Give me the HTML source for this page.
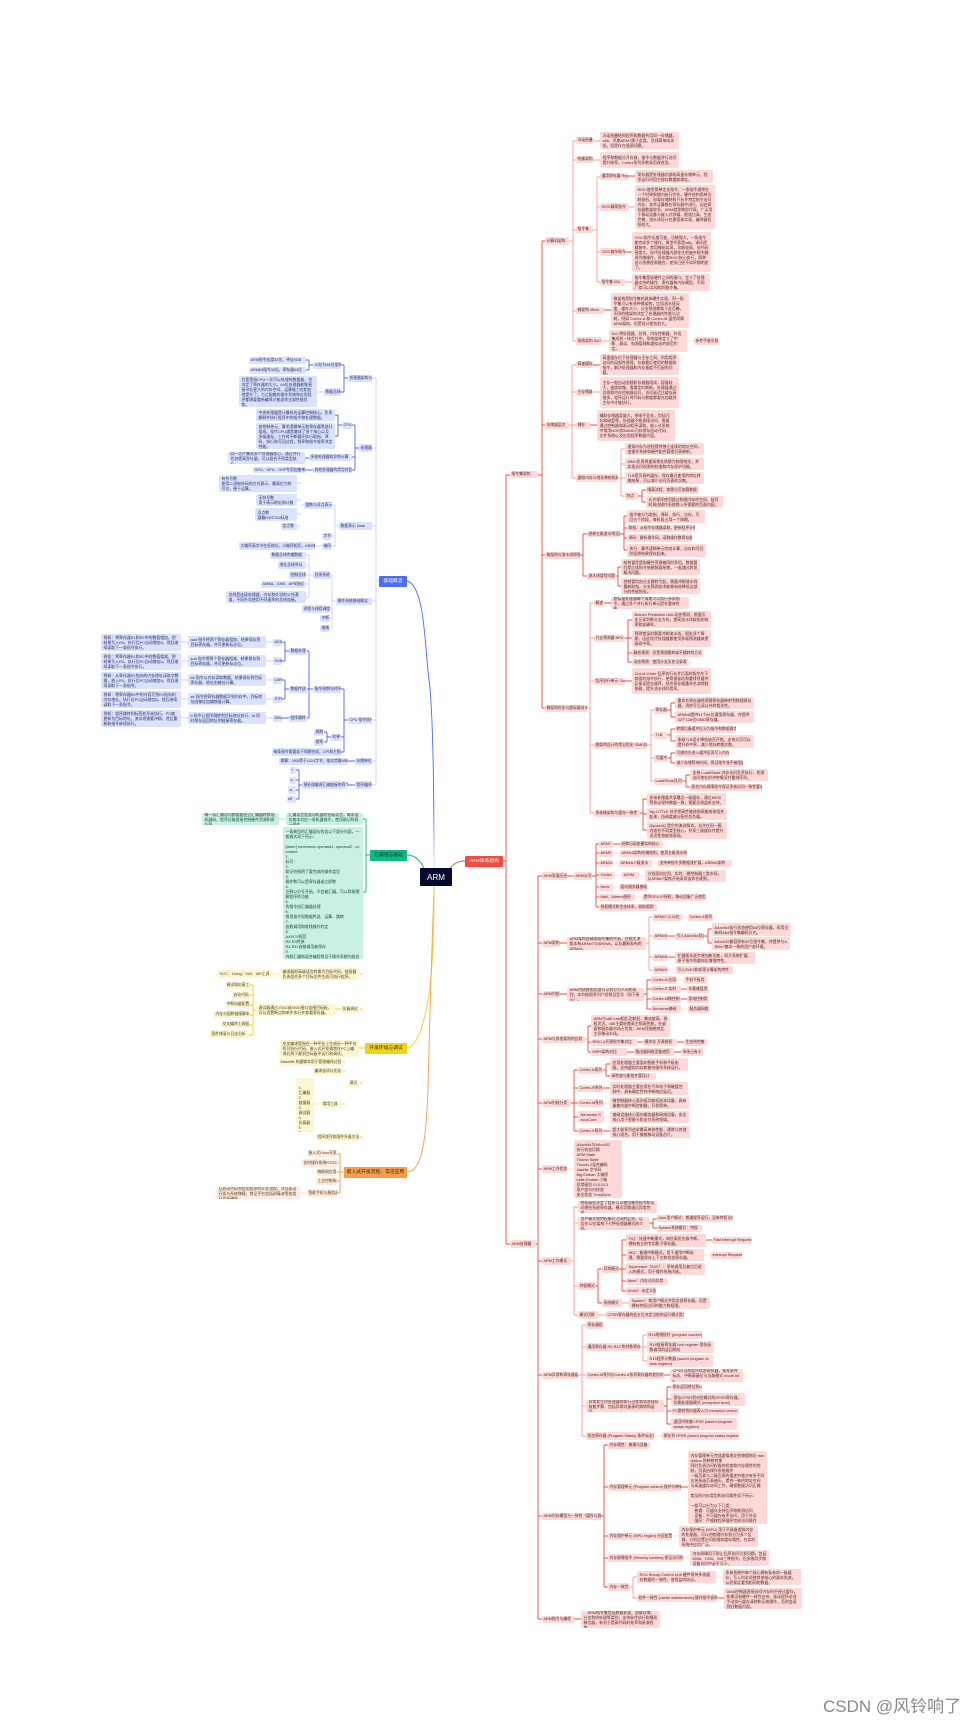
<!DOCTYPE html>
<html lang="zh"><head><meta charset="utf-8"><title>ARM</title>
<style>
html,body{margin:0;padding:0;background:#fff}
body{width:974px;height:1728px;position:relative;overflow:hidden;font-family:"Liberation Sans","Noto Sans CJK SC",sans-serif}
#m{position:absolute;left:0;top:0;width:974px;height:1728px;filter:blur(.35px)}
svg{position:absolute;left:0;top:0}
p{position:absolute;margin:0;box-sizing:border-box;padding:0 2.5px;border-radius:2px;font-size:3.9px;line-height:5px;display:flex;align-items:center;overflow:hidden;word-break:break-all}
p[style*="height:6px"],p[style*="height:7px"],p[style*="height:8px"]{white-space:nowrap;padding:0 1.5px;font-size:3.8px}
.r{background:#ffd9d7;color:#4f2222}.b{background:#dbe2fd;color:#252c66}.g{background:#c9f0e2;color:#124a38}.y{background:#fdf6d3;color:#4d4216}.o{background:#fdecdf;color:#54361a}
.t{color:#fff;font-size:4.8px;justify-content:center;border-radius:1px}
.w{position:absolute;left:823px;top:1696px;font-size:17px;line-height:22px;color:#8a8a8a;white-space:nowrap}
</style></head><body><div id="m">
<svg width="974" height="1728" fill="none" stroke-width=".9">
<defs>
<linearGradient id="gb" gradientUnits="userSpaceOnUse" x1="0" y1="581" x2="0" y2="868"><stop offset="0" stop-color="#4a6cf7"/><stop offset=".8" stop-color="#4a6cf7"/><stop offset="1" stop-color="#dfe5fd"/></linearGradient>
<linearGradient id="gy" gradientUnits="userSpaceOnUse" x1="0" y1="886" x2="0" y2="1048"><stop offset="0" stop-color="#f2d31b"/><stop offset="1" stop-color="#f2d31b"/></linearGradient>
<linearGradient id="go" gradientUnits="userSpaceOnUse" x1="0" y1="886" x2="0" y2="1172"><stop offset="0" stop-color="#f8c93a"/><stop offset=".2" stop-color="#fa9d4a"/><stop offset="1" stop-color="#fa9d4a"/></linearGradient>
</defs>
<path stroke="url(#gb)" d="M407 581C425 585 425 650 429 680S434 780 434 868"/>
<path stroke="#0dbb7f" d="M407 855C415 855 420 860 424 868"/>
<path stroke="#f5483f" d="M450 868C455 863 458 861 465 861"/>
<path stroke="url(#gy)" d="M434 886C434 950 432 1000 420 1032C416 1042 412 1048 407 1048"/>
<path stroke="url(#go)" d="M434 886C432 950 430 1000 428 1090C426 1140 422 1172 407 1172"/>
<path stroke="#f5483f" d="M503 861H506M506 475V1244M506 475H510M506 1244H510M538 475H542M542 241V708M542 241H545M542 425H545M542 555H545M542 708H545M536 1244H538M538 876V1619M538 876H542M538 943H542M538 994H542M538 1039H542M538 1103H542M538 1169H542M538 1261H542M538 1375H542M538 1516H542M538 1619H542
M628 176H635M625 252H632M604 310H611M593 365H600M590 425H597M642 490V502M642 490H646M642 502H646M638 496H642
M580 555H583M583 534V576M583 534H587M583 576H587M621 534H624M624 516V550M624 516H627M624 528H627M624 538H627M624 550H627M616 576H618M618 567V586M618 567H621M618 586H621
M604 603H611M625 638H628M628 620V662M628 620H632M628 638H632M628 653H632M628 662H632M625 681H632M667 710H671M671 703V717M671 703H675M671 717H675M667 735H671M671 729V741M671 729H675M671 741H675M668 758H671M671 753V763M671 753H675M671 763H675M683 781H686M686 775V787M686 775H690M686 787H690M640 813H643M643 799V830M643 799H647M643 814H647M643 830H647
M567 876H574M592 876H596M596 844V907M596 844H599M596 853H599M596 863H599M596 875H599M596 887H599M596 897H599M596 907H599M613 844H620
M560 943H567M668 936H675M704 936H708M708 929V943M708 929H712M708 943H712M668 957H675
M560 994H567M644 994H647M647 980V1009M647 980H651M647 989H651M647 999H651M647 1009H651M681 989H687M681 999H687
M588 1026V1052M588 1026H591M588 1042H591M588 1052H591M637 1042H643M677 1042H684M627 1052H634M674 1052H681
M571 1103H574M574 1070V1131M574 1070H578M574 1088H578M574 1103H578M574 1117H578M574 1131H578M603 1070H606M606 1064V1076M606 1064H610M606 1076H610M603 1088H610M603 1131H610
M567 1169H574M653 1219V1228M649 1223H653M653 1219H657M653 1228H657M595 1286H598M598 1269V1303M598 1269H602M598 1303H602M619 1269H622M622 1240V1291M622 1240H626M622 1255H626M622 1269H626M622 1281H626M622 1291H626M706 1240H712
M664 1375H670M664 1406H667M667 1387V1424M667 1387H671M667 1399H671M667 1411H671M667 1424H671
M601 1516H604M604 1445V1587M604 1445H608M604 1487H608M604 1536H608M604 1558H608M604 1587H608M681 1487H688M717 1598H724M574 1619H581"/>
<path stroke="#fb9d98" d="M569 241H573M573 141V341M573 141H576M573 160H576M573 230H576M573 311H576M573 341H576M593 230H597M597 177V282M597 177H600M597 207H600M597 252H600M597 282H600M593 141H600M593 160H600M629 207H635M625 282H632M602 341H609M569 425H572M572 365V478M572 365H576M572 392H576M572 425H576M572 478H576M592 392H600M618 478H621M621 449V496M621 449H625M621 464H625M621 478H625M621 496H625
M587 708H590M590 603V813M590 603H594M590 638H594M590 681H594M590 745H594M590 813H594M647 745H651M651 710V781M651 710H654M651 735H654M651 758H654M651 781H654
M646 943H649M649 917V970M649 917H653M649 936H653M649 957H653M649 970H653
M585 1039H588M571 1261H574M574 1207V1315M574 1207H578M574 1223H578M574 1286H578M574 1315H578M598 1315H606M622 1303H629
M578 1375H582M582 1325V1436M582 1325H586M582 1347H586M582 1375H586M582 1406H586M582 1436H586M640 1347H643M643 1335V1361M643 1335H647M643 1347H647M643 1361H647
M630 1587H633M633 1577V1598M633 1577H637M633 1598H637"/>
<path stroke="#fde0de" d="M687 341H694M613 853H620M613 863H619M652 863H658M615 875H622M639 876H645M613 887H619M635 897H642M682 917H688M668 970H676M677 980H684M681 1009H688M603 1103H610M604 1117H610M704 1255H711M654 1436H662M672 1536H679M683 1558H690M716 1577H723M564 1169H574"/>
<path stroke="#c8d4fc" d="M376 378V785M379 581H376M376 378H372M376 448H372M376 526H372M376 601H372M376 720H372M376 761H372M376 785H372M324 392H317M339 526H335M335 505V546M335 505H332M335 536H332M335 546H332M322 546H315M336 601H332M332 575V628M332 575H331M332 609H330M332 618H330M332 628H330M313 575H309M309 555V597M309 555H306M309 565H306M309 575H306M309 584H306M309 597H306M304 505H301M301 483H297M301 500H297M301 514H297M301 526H297M273 642H266M188 642H181M273 661H266M188 661H181M273 680H266M188 680H181M273 699H266M188 699H181M273 718H266M188 718H181"/>
<path stroke="#4a6cf7" d="M348 378H344M344 365V392M344 365H341M344 392H341M313 365H309M309 360V370M309 360H306M309 370H306M359 448H355M355 425V470M355 425H352M355 457H352M355 470H352M342 425H338M338 415V436M338 415H335M338 436H335M309 458H305M313 470H306M348 720H344M344 689V752M344 689H341M344 737H341M344 752H341M313 689H309M309 651V718M309 651H307M309 689H307M309 718H307M289 651H285M285 642V661M285 642H282M285 661H282M289 689H285M285 680V699M285 680H282M285 699H282M289 718H282M331 737H327M327 732V742M327 732H324M327 742H324M355 761H348M355 785H348M302 785H299M299 770V799M299 770H296M299 780H296M299 790H296M299 799H296"/>
<path stroke="#0dbb7f" d="M370 855H366M366 819V892M366 819H363M366 892H363"/>
<path stroke="#a8e6cf" d="M286 819H279"/>
<path stroke="#f2d31b" d="M365 1048H359M341 1009H335M256 1010H253M253 985V1035M253 985H249M253 995H249M253 1005H249M253 1015H249M253 1025H249M253 1035H249M360 974H362M360 1009H362M343 1062H345M343 1071H345M360 1083H362M343 1104H345M360 1137H362"/>
<path stroke="#f9eea8" d="M280 974H273M321 1104H314"/>
<path stroke="#fa9d4a" d="M344 1172H340M340 1154V1193M340 1154H337M340 1163H338M340 1172H337M340 1181H337M340 1193H337"/>
<path stroke="#fbd9bd" d="M307 1193H300"/>
</svg>

<p class="t" style="left:420px;top:868px;width:32px;height:18px;background:#050a2e;font-size:8px">ARM</p>
<p class="t" style="left:465px;top:856px;width:38px;height:11px;background:#f44a3f">ARM体系结构</p>
<p class="t" style="left:370px;top:850px;width:37px;height:11px;background:#0dbb7f;color:#033">汇编语言基础</p>
<p class="t" style="left:379px;top:576px;width:28px;height:11px;background:#4a6cf7">基础概念</p>
<p class="t" style="left:365px;top:1043px;width:42px;height:11px;background:#f2d31b;color:#332">开发环境与调试</p>
<p class="t" style="left:344px;top:1167px;width:63px;height:11px;background:#fa9d4a;color:#321">嵌入式开发流程、常见应用</p>

<!-- red top -->
<p class="r" style="left:510px;top:471px;width:28px;height:7px">指令集架构</p>
<p class="r" style="left:510px;top:1240px;width:26px;height:8px">ARM处理器</p>
<p class="r" style="left:545px;top:237px;width:24px;height:8px">计算机架构</p>
<p class="r" style="left:545px;top:422px;width:24px;height:7px">存储器层次</p>
<p class="r" style="left:545px;top:552px;width:35px;height:7px">微架构与流水线原理</p>
<p class="r" style="left:545px;top:705px;width:42px;height:7px">微架构优化与超标量技术</p>
<p class="r" style="left:576px;top:137px;width:17px;height:7px">冯诺依曼</p>
<p class="r" style="left:600px;top:132px;width:79px;height:17px">冯诺依曼结构程序和数据共用同一存储器，x86、早期ARM7属于此类，总线简单成本低，但是存在瓶颈问题。</p>
<p class="r" style="left:576px;top:156px;width:17px;height:7px">哈佛架构</p>
<p class="r" style="left:600px;top:152px;width:79px;height:16px">程序和数据分开存放，指令与数据并行访问提升效率，Cortex系列多数采用改进型。</p>
<p class="r" style="left:576px;top:226px;width:17px;height:7px">指令集</p>
<p class="r" style="left:600px;top:173px;width:28px;height:7px">通用寄存器 Reg</p>
<p class="r" style="left:635px;top:170px;width:78px;height:13px">寄存器是处理器内部的高速存储单元，程序运行时用它保存数据和地址。</p>
<p class="r" style="left:600px;top:203px;width:29px;height:8px">RISC精简指令</p>
<p class="r" style="left:635px;top:185px;width:80px;height:44px">RISC使用简单定长指令，一条指令通常在一个时钟周期内执行完毕，硬件结构简单功耗很低。加载存储结构只允许特定指令访问内存，其余运算都在寄存器中进行，因此寄存器数量较多。ARM就是典型代表，广泛用于移动设备与嵌入式领域，能效比高，生态完善。流水线设计也更容易实现，编译器负担较大。</p>
<p class="r" style="left:600px;top:248px;width:25px;height:8px">CISC复杂指令</p>
<p class="r" style="left:632px;top:232px;width:79px;height:40px">CISC指令长度可变，功能强大，一条指令能完成多个操作，典型代表是x86。译码逻辑复杂，常用微码实现，功耗较高，但代码密度大。现代处理器内部往往把复杂指令翻译为微操作，再由类RISC核心执行，两种设计思想逐渐融合，差别已经不如早期明显了。</p>
<p class="r" style="left:600px;top:279px;width:25px;height:7px">指令集 ISA</p>
<p class="r" style="left:632px;top:274px;width:78px;height:17px">指令集是软硬件之间的接口，定义了处理器支持的操作、寄存器和内存模型，不同厂商可以实现相同指令集。</p>
<p class="r" style="left:576px;top:307px;width:28px;height:7px">微架构 Micro</p>
<p class="r" style="left:611px;top:293px;width:78px;height:35px">微架构是指令集的具体硬件实现，同一指令集可以有多种微架构，比如流水线深度、缓存大小、分支预测都属于此范畴。不同的微架构决定了处理器的性能与功耗，例如 Cortex-A 和 Cortex-M 虽然同属ARM架构，但是设计差别很大。</p>
<p class="r" style="left:576px;top:337px;width:26px;height:8px">系统架构 SoC</p>
<p class="r" style="left:609px;top:330px;width:78px;height:22px">SoC将处理器、总线、内存控制器、外设集成到一块芯片中。系统架构定义了中断、调试、电源管理和虚拟化的规范约定。</p>
<p class="r" style="left:694px;top:337px;width:25px;height:8px">参考手册文档</p>
<p class="r" style="left:576px;top:361px;width:17px;height:7px">高速缓存</p>
<p class="r" style="left:600px;top:354px;width:79px;height:21px">高速缓存位于处理器与主存之间，利用程序访问的局部性原理，存放最近使用的数据和指令，解决处理器和内存速度不匹配的问题。</p>
<p class="r" style="left:576px;top:389px;width:16px;height:7px">主存储器</p>
<p class="r" style="left:600px;top:377px;width:79px;height:31px">主存一般由动态随机存储器组成，容量较大，速度较慢，需要定时刷新。处理器通过总线和内存控制器访问，访问延迟比缓存高很多，程序运行时代码与数据都要先加载到主存中才能执行。</p>
<p class="r" style="left:576px;top:422px;width:14px;height:7px">辅存</p>
<p class="r" style="left:597px;top:410px;width:78px;height:31px">辅助存储器容量大，掉电不丢失，包括闪存和磁盘等。处理器不能直接访问，需要通过控制器和驱动程序读取。嵌入式系统中常用NOR和NAND闪存保存启动代码、文件系统以及应用程序数据内容。</p>
<p class="r" style="left:576px;top:474px;width:42px;height:8px">虚拟内存与地址映射机制</p>
<p class="r" style="left:625px;top:443px;width:79px;height:12px">虚拟内存为进程提供独立连续的地址空间，由操作系统和硬件配合管理页表映射。</p>
<p class="r" style="left:625px;top:458px;width:79px;height:12px">MMU负责将虚拟地址转换为物理地址，并实现访问权限的检查和内存保护功能。</p>
<p class="r" style="left:625px;top:472px;width:79px;height:12px">TLB是页表的缓存，保存最近使用的地址转换结果，可以减少访问页表的次数。</p>
<p class="r" style="left:625px;top:492px;width:13px;height:8px">特点</p>
<p class="r" style="left:646px;top:486px;width:53px;height:8px">隔离进程、按需分页加载数据</p>
<p class="r" style="left:646px;top:496px;width:77px;height:12px">允许程序使用超过物理内存的空间，缺页时再由操作系统换入所需要的页面内容。</p>
<p class="r" style="left:587px;top:531px;width:34px;height:6px">经典五级流水线设计</p>
<p class="r" style="left:627px;top:510px;width:78px;height:13px">指令被分为取指、译码、执行、访存、写回五个阶段，每阶段占用一个周期。</p>
<p class="r" style="left:627px;top:525px;width:68px;height:7px">取指：从指令存储器读取，更新程序计数器</p>
<p class="r" style="left:627px;top:534px;width:65px;height:8px">译码：解析操作码，读取操作数寄存器</p>
<p class="r" style="left:627px;top:544px;width:79px;height:13px">执行：算术逻辑单元完成计算，访存和写回阶段把结果保存起来。</p>
<p class="r" style="left:587px;top:573px;width:29px;height:7px">流水线冒险问题</p>
<p class="r" style="left:621px;top:559px;width:79px;height:16px">结构冒险是指硬件资源被同时争用，数据冒险是后续指令依赖前面结果，一般通过转发解决问题。</p>
<p class="r" style="left:621px;top:578px;width:79px;height:16px">控制冒险由分支跳转引起，需要冲刷流水线重新取指，分支预测技术能够有效降低这部分的性能损失。</p>
<p class="r" style="left:594px;top:600px;width:10px;height:7px">概述</p>
<p class="r" style="left:611px;top:597px;width:78px;height:12px">超标量处理器每个周期可以执行多条指令，通过多个并行执行单元提升整体性能。</p>
<p class="r" style="left:594px;top:635px;width:31px;height:7px">分支预测器 BPU</p>
<p class="r" style="left:632px;top:611px;width:79px;height:17px">Branch Prediction Unit 动态预测，根据历史记录判断分支方向，提高流水线取指的效率和准确率。</p>
<p class="r" style="left:632px;top:630px;width:79px;height:17px">预测错误时需要冲刷流水线，损失多个周期，因此现代处理器都使用多级预测器来提高命中率。</p>
<p class="r" style="left:632px;top:649px;width:71px;height:8px">静态预测：总是预测跳转或不跳转的方式</p>
<p class="r" style="left:632px;top:659px;width:57px;height:7px">动态预测：使用分支历史记录表</p>
<p class="r" style="left:594px;top:678px;width:31px;height:7px">乱序执行单元 OoO</p>
<p class="r" style="left:632px;top:668px;width:79px;height:26px">Out-of-Order 乱序执行允许后面的指令先于前面的指令执行，使用保留站和重排序缓冲区保证提交顺序，结合寄存器重命名消除假依赖，提升流水线利用率。</p>
<p class="r" style="left:594px;top:742px;width:53px;height:7px">微架构设计的常见优化 SIMD技术</p>
<p class="r" style="left:654px;top:707px;width:13px;height:7px">寄存器</p>
<p class="r" style="left:675px;top:697px;width:79px;height:12px">重命名寄存器将逻辑寄存器映射到物理寄存器，消除写后读以外的相关性。</p>
<p class="r" style="left:675px;top:711px;width:79px;height:12px">ARMv8提供31个64位通用寄存器，并提供32个128位SIMD寄存器。</p>
<p class="r" style="left:654px;top:732px;width:13px;height:7px">TLB</p>
<p class="r" style="left:675px;top:726px;width:61px;height:7px">转换后备缓冲区分为指令和数据两类</p>
<p class="r" style="left:675px;top:735px;width:79px;height:13px">多级TLB设计降低缺页开销，支持大页可以提升命中率，减少地址转换次数。</p>
<p class="r" style="left:654px;top:755px;width:14px;height:7px">写缓冲</p>
<p class="r" style="left:675px;top:750px;width:54px;height:7px">写操作先进入缓冲区再写入内存</p>
<p class="r" style="left:675px;top:760px;width:68px;height:7px">减少存储等待时间，保证指令流不被阻塞</p>
<p class="r" style="left:654px;top:778px;width:29px;height:7px">Load/Store队列</p>
<p class="r" style="left:690px;top:769px;width:78px;height:12px">支持 Load/Store 内存访问乱序执行，检测访问地址的冲突情况并重排序列。</p>
<p class="r" style="left:690px;top:784px;width:72px;height:7px">配合内存屏障指令保证多核访问一致性要求</p>
<p class="r" style="left:594px;top:810px;width:46px;height:7px">多核微架构与缓存一致性</p>
<p class="r" style="left:647px;top:793px;width:79px;height:13px">多核处理器共享最后一级缓存，通过MESI等协议保持数据一致，需要总线监听支持。</p>
<p class="r" style="left:647px;top:808px;width:80px;height:12px">big.LITTLE 技术把高性能核和高能效核组合起来，由调度器分配任务负载。</p>
<p class="r" style="left:647px;top:822px;width:80px;height:17px">DynamIQ 是它的演进版本，允许在同一簇内组合不同类型核心，共享三级缓存并提升灵活性和能效表现。</p>

<!-- ARM processors -->
<p class="r" style="left:542px;top:872px;width:25px;height:8px">ARM发展历史</p>
<p class="r" style="left:574px;top:872px;width:18px;height:8px">ARM公司</p>
<p class="r" style="left:599px;top:841px;width:14px;height:7px">ARM7</p><p class="r" style="left:620px;top:841px;width:43px;height:7px">经典冯诺依曼架构核心</p>
<p class="r" style="left:599px;top:850px;width:14px;height:7px">ARM9</p><p class="r" style="left:620px;top:850px;width:67px;height:7px">ARMv5架构哈佛结构，使用五级流水线</p>
<p class="r" style="left:599px;top:860px;width:14px;height:7px">ARM11</p><p class="r" style="left:619px;top:860px;width:33px;height:7px">ARMv6八级流水</p><p class="r" style="left:658px;top:860px;width:74px;height:7px">支持单指令多数据流扩展，ARMv6架构</p>
<p class="r" style="left:599px;top:872px;width:16px;height:7px">Cortex</p><p class="r" style="left:622px;top:872px;width:17px;height:7px">A/R/M</p><p class="r" style="left:645px;top:870px;width:81px;height:12px">分别面向应用、实时、微控制器三类市场，从ARMv7架构开始采用该命名规则。</p>
<p class="r" style="left:599px;top:884px;width:14px;height:7px">Neov</p><p class="r" style="left:619px;top:884px;width:29px;height:7px">面向服务器基础</p>
<p class="r" style="left:599px;top:894px;width:36px;height:7px">Mali、Adreno图形</p><p class="r" style="left:642px;top:894px;width:64px;height:7px">提供GPU IP授权，移动设备广泛使用</p>
<p class="r" style="left:599px;top:904px;width:58px;height:7px">授权模式和生态体系，收取版税</p>
<p class="r" style="left:542px;top:940px;width:18px;height:7px">ARM架构</p>
<p class="r" style="left:567px;top:937px;width:79px;height:13px">ARM架构是精简指令集的代表，目前主流版本有ARMv7与ARMv8，以及最新发布的ARMv9。</p>
<p class="r" style="left:653px;top:914px;width:29px;height:7px">ARMv7-A 32位</p><p class="r" style="left:688px;top:914px;width:25px;height:7px">Cortex-A系列</p>
<p class="r" style="left:653px;top:933px;width:15px;height:7px">ARMv8</p><p class="r" style="left:675px;top:933px;width:29px;height:7px">引入AArch64状态</p>
<p class="r" style="left:712px;top:923px;width:79px;height:13px">AArch64执行状态使用64位寄存器，采用全新的A64指令集编码方式。</p>
<p class="r" style="left:712px;top:937px;width:78px;height:13px">AArch32兼容原有32位指令集，并提供与ARMv7基本一致的用户态环境。</p>
<p class="r" style="left:653px;top:954px;width:15px;height:7px">ARMv8.x</p><p class="r" style="left:675px;top:952px;width:80px;height:12px">扩展版本逐步增加新功能，如大系统扩展、原子指令和虚拟化增强特性。</p>
<p class="r" style="left:653px;top:966px;width:15px;height:8px">ARMv9</p><p class="r" style="left:676px;top:966px;width:57px;height:8px">引入SVE2和机密计算架构特性</p>
<p class="r" style="left:542px;top:991px;width:18px;height:7px">ARM内核</p>
<p class="r" style="left:567px;top:988px;width:77px;height:13px">ARM内核按照用途可以划分为不同的系列，本节按照系列介绍常见型号（如下所示）。</p>
<p class="r" style="left:651px;top:976px;width:26px;height:8px">Cortex-A 应用</p><p class="r" style="left:684px;top:976px;width:23px;height:8px">手机平板类</p>
<p class="r" style="left:651px;top:986px;width:30px;height:7px">Cortex-R 实时</p><p class="r" style="left:687px;top:986px;width:22px;height:7px">车载硬盘类</p>
<p class="r" style="left:651px;top:996px;width:30px;height:7px">Cortex-M微控制</p><p class="r" style="left:687px;top:996px;width:22px;height:7px">家电控制类</p>
<p class="r" style="left:651px;top:1005px;width:30px;height:8px">Neoverse基础</p><p class="r" style="left:688px;top:1005px;width:22px;height:8px">服务器网络</p>
<p class="r" style="left:542px;top:1036px;width:43px;height:7px">ARM与其他架构的比较</p>
<p class="r" style="left:591px;top:1015px;width:79px;height:22px">ARM与x86 Intel相比功耗低，集成度高，授权灵活。x86主要依靠高主频高性能，在桌面和服务器市场占优势；ARM凭借能效比主导移动市场。</p>
<p class="r" style="left:591px;top:1039px;width:46px;height:7px">RISC-V开源指令集对比</p><p class="r" style="left:643px;top:1039px;width:34px;height:7px">模块化 开源授权</p><p class="r" style="left:684px;top:1039px;width:23px;height:7px">生态待完善</p>
<p class="r" style="left:591px;top:1048px;width:36px;height:8px">MIPS架构对比</p><p class="r" style="left:634px;top:1048px;width:40px;height:8px">路由器网络设备使用</p><p class="r" style="left:681px;top:1048px;width:22px;height:8px">市场占有小</p>
<p class="r" style="left:542px;top:1099px;width:29px;height:8px">ARM内核分类</p>
<p class="r" style="left:578px;top:1067px;width:25px;height:7px">Cortex-A系列</p>
<p class="r" style="left:610px;top:1058px;width:78px;height:13px">应用处理器主要面向智能手机和平板电脑，支持虚拟内存和复杂操作系统运行。</p>
<p class="r" style="left:610px;top:1073px;width:46px;height:7px">高性能与能效并重设计</p>
<p class="r" style="left:578px;top:1085px;width:25px;height:7px">Cortex-R系列</p>
<p class="r" style="left:610px;top:1082px;width:78px;height:13px">实时处理器主要应用在汽车电子和硬盘控制中，具有确定性的中断响应延迟。</p>
<p class="r" style="left:578px;top:1099px;width:25px;height:8px">Cortex-M系列</p>
<p class="r" style="left:610px;top:1097px;width:79px;height:12px">微控制器核心面向低功耗低成本设备，具有嵌套向量中断控制器，开发简单。</p>
<p class="r" style="left:578px;top:1111px;width:26px;height:12px">Neoverse SecurCore</p>
<p class="r" style="left:610px;top:1111px;width:79px;height:12px">基础设施核心面向服务器和网络设备，安全核心用于智能卡和支付系统领域。</p>
<p class="r" style="left:578px;top:1128px;width:25px;height:7px">Cortex-X系列</p>
<p class="r" style="left:610px;top:1126px;width:80px;height:12px">超大核系列追求最高单核性能，通常与其他核心组合，用于旗舰移动设备芯片。</p>
<p class="r" style="left:542px;top:1165px;width:25px;height:8px">ARM工作状态</p>
<p class="r" style="left:574px;top:1140px;width:48px;height:58px;align-items:flex-start;padding-top:2px;white-space:nowrap">AArch64与AArch32<br>执行状态切换<br>ARM State<br>Thumb State<br>Thumb-2混合编码<br>Jazelle 字节码<br>Big-Endian 大端序<br>Little-Endian 小端<br>异常级别 EL0-EL3<br>用户态与内核态<br>安全状态 TrustZone</p>
<p class="r" style="left:542px;top:1257px;width:29px;height:8px">ARM工作模式</p>
<p class="r" style="left:578px;top:1201px;width:79px;height:12px">特权级别决定了程序可以使用哪些指令和访问哪些系统寄存器，模式切换通过异常完成。</p>
<p class="r" style="left:578px;top:1217px;width:71px;height:13px">用户模式和特权模式之间的区别，以及在32位架构下七种处理器模式的介绍。</p>
<p class="r" style="left:657px;top:1215px;width:76px;height:7px">User用户模式：普通程序运行，没有特权访问</p>
<p class="r" style="left:657px;top:1225px;width:45px;height:7px">System系统模式：特权</p>
<p class="r" style="left:578px;top:1282px;width:17px;height:8px">特权模式</p>
<p class="r" style="left:602px;top:1265px;width:17px;height:8px">异常模式</p>
<p class="r" style="left:626px;top:1234px;width:80px;height:13px">FIQ：快速中断模式，响应高优先级中断，拥有独立的专用影子寄存器。</p>
<p class="r" style="left:712px;top:1237px;width:40px;height:7px">Fast Interrupt Request</p>
<p class="r" style="left:626px;top:1249px;width:78px;height:12px">IRQ：普通中断模式，用于通用中断处理，需要保存上下文和状态寄存器。</p>
<p class="r" style="left:711px;top:1252px;width:31px;height:7px">Interrupt Request</p>
<p class="r" style="left:626px;top:1263px;width:79px;height:12px">Supervisor（SVC）：系统调用及复位后进入的模式，用于操作系统内核。</p>
<p class="r" style="left:626px;top:1278px;width:42px;height:7px">Abort：内存访问异常</p>
<p class="r" style="left:626px;top:1287px;width:30px;height:8px">Undef：未定义指令</p>
<p class="r" style="left:602px;top:1299px;width:20px;height:8px">系统模式</p>
<p class="r" style="left:629px;top:1297px;width:81px;height:12px">System：和用户模式共用全部寄存器，但是拥有特权访问的能力和权限。</p>
<p class="r" style="left:578px;top:1311px;width:20px;height:8px">模式切换</p>
<p class="r" style="left:606px;top:1311px;width:78px;height:8px">CPSR寄存器的低五位决定当前的运行模式类型</p>
<p class="r" style="left:542px;top:1372px;width:36px;height:7px">ARM异常和寄存器组</p>
<p class="r" style="left:586px;top:1321px;width:17px;height:8px">寄存器组</p>
<p class="r" style="left:586px;top:1343px;width:54px;height:8px">通用寄存器 R0-R12 和特殊寄存器</p>
<p class="r" style="left:647px;top:1331px;width:55px;height:8px">R13堆栈指针 (program counter)</p>
<p class="r" style="left:647px;top:1341px;width:67px;height:12px">R14链接寄存器 Link register 保存函数调用的返回地址</p>
<p class="r" style="left:647px;top:1355px;width:66px;height:12px">R15程序计数器 (saved program status register)</p>
<p class="r" style="left:586px;top:1372px;width:78px;height:7px">Cortex-M系列与Cortex-A系列寄存器的差别对比</p>
<p class="r" style="left:670px;top:1369px;width:73px;height:13px">CPSR当前程序状态寄存器，保存条件标志、中断屏蔽位与当前模式 mode bits</p>
<p class="r" style="left:586px;top:1400px;width:78px;height:12px">异常发生时处理器的执行过程和状态保存恢复步骤，包括异常向量表的跳转和返回。</p>
<p class="r" style="left:671px;top:1384px;width:31px;height:7px">保存返回地址到LR</p>
<p class="r" style="left:671px;top:1393px;width:74px;height:13px">保存CPSR到对应模式的SPSR寄存器，切换处理器模式 (exception level)</p>
<p class="r" style="left:671px;top:1408px;width:68px;height:7px">PC跳转到向量表入口 exception vector</p>
<p class="r" style="left:671px;top:1418px;width:66px;height:12px">返回时恢复CPSR (saved program status register)</p>
<p class="r" style="left:586px;top:1432px;width:68px;height:8px">状态寄存器 (Program Status) 条件标志位</p>
<p class="r" style="left:662px;top:1432px;width:77px;height:8px">保存到 SPSR (saved program status register)</p>
<p class="r" style="left:542px;top:1513px;width:59px;height:7px">ARM内存模型与一致性（缓存与屏障）</p>
<p class="r" style="left:608px;top:1442px;width:42px;height:7px">内存属性：普通与设备</p>
<p class="r" style="left:608px;top:1484px;width:73px;height:7px">内存管理单元 (Program control) 保护与映射</p>
<p class="r" style="left:688px;top:1451px;width:79px;height:73px;align-items:flex-start;padding-top:2px">内存管理单元完成虚拟地址到物理地址 translation 的映射转换<br>同时负责访问权限的检查和内存属性的控制，页表由操作系统维护<br>一级页表与二级页表的描述符格式有所不同<br>支持多级页表遍历，提供一致的地址空间<br>与高速缓存协同工作，确保数据访问正确<br><br>常见的内存类型和访问属性如下所示：<br><br>一般可以分为以下几类：<br>　普通：可缓存支持乱序和推测访问<br>　设备：不可缓存有序访问，用于外设<br>　强序：严格按程序顺序完成访问操作</p>
<p class="r" style="left:608px;top:1533px;width:64px;height:7px">内存保护单元 (MPU region) 分区配置</p>
<p class="r" style="left:679px;top:1526px;width:79px;height:21px">内存保护单元 (MPU) 用于不具备虚拟内存的处理器，可以把物理内存划分为多个区域，分别设置访问权限和缓存属性，在实时系统中应用广泛。</p>
<p class="r" style="left:608px;top:1554px;width:75px;height:8px">内存屏障指令 (Memory barriers) 保证访问的顺序</p>
<p class="r" style="left:690px;top:1550px;width:79px;height:16px">内存屏障用于防止乱序访问引发问题，包括DMB、DSB、ISB三种指令，在多核同步和设备访问中必不可少。</p>
<p class="r" style="left:608px;top:1583px;width:22px;height:8px">内存一致性</p>
<p class="r" style="left:637px;top:1571px;width:79px;height:12px">SCU Snoop Control Unit 硬件保持多核缓存数据的一致性，使用监听协议。</p>
<p class="r" style="left:637px;top:1594px;width:80px;height:8px">软件一致性 (cache maintenance) 操作指令说明</p>
<p class="r" style="left:723px;top:1569px;width:78px;height:16px">多核系统中每个核心拥有私有的一级缓存，写入时必须使其他核心的副本失效，从而保证看到相同的数据。</p>
<p class="r" style="left:724px;top:1588px;width:78px;height:21px">DMA控制器直接访问内存时不经过缓存，如果没有硬件一致性支持，驱动程序必须手动执行缓存清除和无效操作，否则会读到旧数据内容。</p>
<p class="r" style="left:542px;top:1616px;width:32px;height:7px">ARM指令与编程</p>
<p class="r" style="left:581px;top:1611px;width:79px;height:17px">　ARM指令集包括数据处理、加载存储、分支和协处理等类别，支持条件执行和桶形移位器，有利于提高代码的效率和紧凑程度。</p>

<!-- blue -->
<p class="b" style="left:348px;top:375px;width:24px;height:7px">处理器架构与</p>
<p class="b" style="left:313px;top:362px;width:28px;height:7px">32位与64位架构</p>
<p class="b" style="left:249px;top:357px;width:57px;height:7px">ARM指令长度32位，寻址4GB</p>
<p class="b" style="left:249px;top:367px;width:57px;height:7px">ARM64指令32位，寄存器64位</p>
<p class="b" style="left:324px;top:388px;width:17px;height:8px">数据总线</p>
<p class="b" style="left:239px;top:376px;width:78px;height:31px">位宽是指CPU一次可以处理的数据量，也决定了寄存器的大小。64位处理器能够直接寻址更大的内存空间，运算能力也相应地提升了。与之配套的操作系统和应用程序都需要重新编译才能发挥全部性能优势。</p>
<p class="b" style="left:359px;top:444px;width:13px;height:8px">处理器</p>
<p class="b" style="left:342px;top:422px;width:10px;height:7px">CPU</p>
<p class="b" style="left:256px;top:409px;width:79px;height:12px">中央处理器是计算机的运算控制核心，负责解释并执行程序中的指令和处理数据。</p>
<p class="b" style="left:256px;top:423px;width:79px;height:26px">由控制单元、算术逻辑单元和寄存器等部分组成。现代CPU通常集成了多个核心以及多级缓存，工作时不断循环执行取指、译码、执行和写回过程，频率和指令效率决定性能。</p>
<p class="b" style="left:309px;top:454px;width:43px;height:7px">多核处理器和异构计算</p>
<p class="b" style="left:228px;top:452px;width:77px;height:12px">同一芯片集成多个处理器核心，通过并行任务提高吞吐量，可以组合不同类型核心。</p>
<p class="b" style="left:313px;top:467px;width:39px;height:6px">其他处理器的类型对比</p>
<p class="b" style="left:253px;top:467px;width:53px;height:6px">GPU、NPU、DSP专用加速单元</p>
<p class="b" style="left:339px;top:522px;width:33px;height:8px">数据表示 Data</p>
<p class="b" style="left:304px;top:502px;width:28px;height:7px">整数与浮点表示</p>
<p class="b" style="left:219px;top:475px;width:78px;height:17px">有符号数<br>使用二进制补码的方式表示，最高位为符号位，便于运算。</p>
<p class="b" style="left:256px;top:494px;width:41px;height:12px">无符号数<br>用于表示地址和计数</p>
<p class="b" style="left:255px;top:508px;width:42px;height:13px">浮点数<br>遵循IEEE754标准</p>
<p class="b" style="left:281px;top:523px;width:16px;height:7px">定点数</p>
<p class="b" style="left:322px;top:533px;width:10px;height:7px">字节</p>
<p class="b" style="left:322px;top:543px;width:10px;height:7px">端序</p>
<p class="b" style="left:239px;top:542px;width:76px;height:8px">大端序高字节在低地址，小端序相反，ARM都支持</p>
<p class="b" style="left:313px;top:571px;width:18px;height:8px">总线系统</p>
<p class="b" style="left:270px;top:552px;width:36px;height:7px">数据总线传输数据</p>
<p class="b" style="left:278px;top:561px;width:28px;height:8px">地址总线寻址</p>
<p class="b" style="left:289px;top:571px;width:17px;height:8px">控制总线</p>
<p class="b" style="left:261px;top:581px;width:45px;height:7px">AMBA、AHB、APB协议</p>
<p class="b" style="left:226px;top:591px;width:80px;height:12px">总线是连接处理器、内存和外设的公共通道，不同外设使用不同速率的总线连接。</p>
<p class="b" style="left:336px;top:598px;width:36px;height:7px">操作系统基础概念</p>
<p class="b" style="left:302px;top:605px;width:28px;height:8px">进程与线程调度</p>
<p class="b" style="left:320px;top:615px;width:10px;height:7px">中断</p>
<p class="b" style="left:320px;top:625px;width:10px;height:7px">堆栈</p>
<p class="b" style="left:348px;top:717px;width:24px;height:7px">CPU 指令执行</p>
<p class="b" style="left:313px;top:686px;width:28px;height:7px">指令周期与时序</p>
<p class="b" style="left:289px;top:648px;width:18px;height:7px">数据处理</p>
<p class="b" style="left:273px;top:639px;width:9px;height:7px">ADD</p>
<p class="b" style="left:188px;top:636px;width:78px;height:12px">add 指令将两个寄存器相加，结果保存到目标寄存器，并可更新标志位。</p>
<p class="b" style="left:101px;top:634px;width:80px;height:17px">例如：将寄存器R1和R2中的数值相加，把结果写入R0，执行后PC自动增加4，然后继续读取下一条指令执行。</p>
<p class="b" style="left:273px;top:657px;width:9px;height:8px">SUB</p>
<p class="b" style="left:188px;top:655px;width:78px;height:12px">sub 指令将两个寄存器相减，结果保存到目标寄存器，并可更新标志位。</p>
<p class="b" style="left:101px;top:653px;width:80px;height:17px">例如：将寄存器R1和R2中的数值相减，把结果写入R0，执行后PC自动增加4，然后继续读取下一条指令执行。</p>
<p class="b" style="left:289px;top:686px;width:18px;height:7px">数据传送</p>
<p class="b" style="left:273px;top:677px;width:9px;height:7px">LDR</p>
<p class="b" style="left:188px;top:674px;width:78px;height:12px">ldr 指令从内存读取数据，结果保存到目标寄存器，地址由基址计算。</p>
<p class="b" style="left:101px;top:672px;width:80px;height:17px">例如：从寄存器R1指向的内存地址读取字数据，放入R0，执行后PC自动增加4，然后继续读取下一条指令。</p>
<p class="b" style="left:273px;top:696px;width:9px;height:7px">STR</p>
<p class="b" style="left:188px;top:693px;width:78px;height:12px">str 指令把寄存器数据写到内存中，目标地址由基址加偏移量计算。</p>
<p class="b" style="left:101px;top:691px;width:80px;height:17px">例如：将寄存器R0中的内容写到R1指向的内存地址，执行后PC自动增加4，然后继续读取下一条指令。</p>
<p class="b" style="left:289px;top:715px;width:18px;height:7px">程序跳转</p>
<p class="b" style="left:273px;top:715px;width:9px;height:7px">B/BL</p>
<p class="b" style="left:188px;top:712px;width:78px;height:12px">b 指令让程序跳转到目标地址执行，bl 同时保存返回地址到链接寄存器。</p>
<p class="b" style="left:101px;top:710px;width:80px;height:17px">例如：程序跳转到标签处开始执行，PC被更新为目标地址，流水线需要冲刷，然后重新取指令继续执行。</p>
<p class="b" style="left:331px;top:734px;width:10px;height:7px">时钟</p>
<p class="b" style="left:314px;top:729px;width:10px;height:7px">周期</p>
<p class="b" style="left:314px;top:739px;width:10px;height:7px">频率</p>
<p class="b" style="left:272px;top:748px;width:69px;height:8px">每条指令需要若干周期完成，CPI和主频决定性能</p>
<p class="b" style="left:355px;top:758px;width:17px;height:7px">存储单位</p>
<p class="b" style="left:279px;top:758px;width:69px;height:7px">换算：1KB等于1024字节，依次类推MB和GB</p>
<p class="b" style="left:355px;top:781px;width:17px;height:8px">程序编译</p>
<p class="b" style="left:302px;top:781px;width:46px;height:8px">预处理编译汇编链接的四个阶段</p>
<p class="b" style="left:290px;top:767px;width:6px;height:7px;padding:0 1px">.i</p>
<p class="b" style="left:289px;top:777px;width:7px;height:7px;padding:0 1px">.s</p>
<p class="b" style="left:288px;top:786px;width:8px;height:8px;padding:0 1px">.o</p>
<p class="b" style="left:287px;top:796px;width:9px;height:7px;padding:0 1px">elf</p>

<!-- green -->
<p class="g" style="left:286px;top:813px;width:77px;height:12px">汇编语言是面向机器的低级语言，每条语句基本对应一条机器指令，使用助记符表示操作。</p>
<p class="g" style="left:202px;top:813px;width:77px;height:12px">每一条汇编语句都需要经过汇编器转换成机器码，程序员能直接控制硬件资源和寄存器</p>
<p class="g" style="left:283px;top:827px;width:80px;height:132px;align-items:flex-start;padding-top:2px">一条典型的汇编语句包含以下部分内容，一般格式如下所示：<br><br>[label:] mnemonic operand1, operand2 ; comment<br>1.<br>标号：<br>2.<br>助记符指明了要完成的操作类型<br>3.<br>操作数可以是寄存器或立即数<br>4.<br>注释以分号开始，不会被汇编，可以帮助理解程序的功能<br>5.<br>伪指令由汇编器处理<br>6.<br>常用指令如数据传送、运算、跳转<br>7.<br>函数调用和堆栈操作约定<br>8.<br>AAPCS规范<br>R0-R3传参<br>R4-R11由被调用者保存<br>9.<br>内联汇编和混合编程常见于操作系统内核启动代码和驱动开发中。</p>

<!-- yellow -->
<p class="y" style="left:280px;top:968px;width:79px;height:12px">编译器把高级语言转换为目标代码，链接器负责组合多个目标文件生成可执行程序。</p>
<p class="y" style="left:218px;top:970px;width:55px;height:8px">GCC、Clang、Keil、IAR工具</p>
<p class="y" style="left:341px;top:1006px;width:18px;height:7px">仿真调试</p>
<p class="y" style="left:256px;top:1004px;width:79px;height:12px">调试器通过JTAG或SWD接口连接目标板，可以设置断点和单步执行并查看寄存器。</p>
<p class="y" style="left:225px;top:982px;width:24px;height:7px">调试和仿真工具</p>
<p class="y" style="left:232px;top:992px;width:17px;height:7px">启动代码</p>
<p class="y" style="left:225px;top:1001px;width:24px;height:7px">中断向量配置</p>
<p class="y" style="left:214px;top:1011px;width:35px;height:7px">内存分配和链接脚本</p>
<p class="y" style="left:221px;top:1021px;width:28px;height:7px">交叉编译工具链</p>
<p class="y" style="left:210px;top:1030px;width:39px;height:8px">固件烧录与日志分析</p>
<p class="y" style="left:280px;top:1040px;width:79px;height:17px">交叉编译是指在一种平台上生成另一种平台的可执行代码，嵌入式开发通常在PC上编译后再下载到目标板中运行和调试。</p>
<p class="y" style="left:279px;top:1058px;width:63px;height:8px">Makefile 构建脚本用于管理编译过程</p>
<p class="y" style="left:313px;top:1068px;width:29px;height:7px">编译选项与优化</p>
<p class="y" style="left:348px;top:1080px;width:11px;height:7px">调试</p>
<p class="y" style="left:321px;top:1101px;width:21px;height:7px">常用工具</p>
<p class="y" style="left:296px;top:1078px;width:18px;height:54px;align-items:flex-start;padding-top:7px">1.<br>汇编器<br>2.<br>链接器<br>3.<br>调试器<br>4.<br>仿真器<br>5.<br>Fromelf</p>
<p class="y" style="left:316px;top:1133px;width:43px;height:8px">程序烧写和固件升级方法</p>

<!-- orange -->
<p class="o" style="left:307px;top:1150px;width:30px;height:7px">嵌入式Linux开发</p>
<p class="o" style="left:302px;top:1159px;width:36px;height:8px">实时操作系统RTOS</p>
<p class="o" style="left:316px;top:1169px;width:21px;height:7px">物联网应用</p>
<p class="o" style="left:316px;top:1178px;width:21px;height:7px">工业控制系统</p>
<p class="o" style="left:307px;top:1189px;width:30px;height:8px">智能手机与服务器</p>
<p class="o" style="left:216px;top:1187px;width:84px;height:12px">从启动代码到应用程序的开发流程，涉及驱动开发与系统移植，常见平台包括树莓派等各类开发板硬件。</p>
</div>
<div class="w">CSDN @风铃响了</div>
</body></html>
